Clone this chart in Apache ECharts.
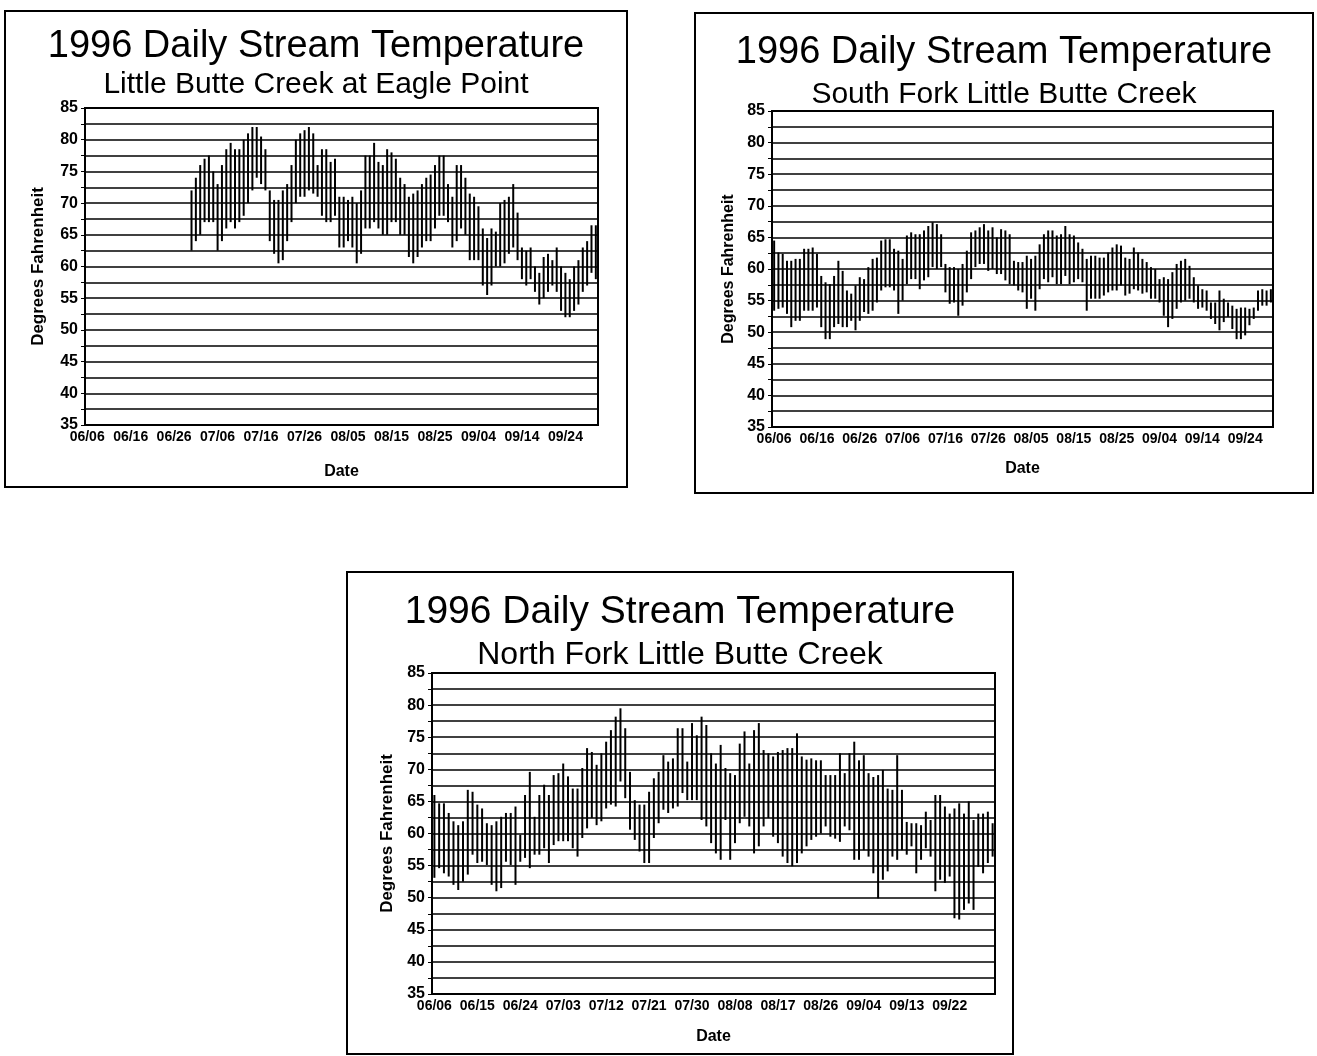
<!DOCTYPE html>
<html>
<head>
<meta charset="utf-8">
<script src="https://cdn.jsdelivr.net/npm/echarts@6/dist/echarts.min.js"></script>
<style>
  body { margin: 0; background: #fff; width: 1317px; height: 1056px; position: relative; overflow: hidden; }
  .box { position: absolute; box-sizing: border-box; border: 2px solid #000; background: #fff; }
</style>
</head>
<body>
<div id="eagle" class="box" style="left:4px;top:10px;width:624px;height:478px;"></div>
<div id="south" class="box" style="left:694px;top:12px;width:620px;height:482px;"></div>
<div id="north" class="box" style="left:346px;top:571px;width:668px;height:484px;"></div>
<script>
// daily min / max, index 0 = 06/06/1996
var eagleLow = [null,null,null,null,null,null,null,null,null,null,null,null,null,null,null,null,null,null,null,null,null,null,null,null,
  62.5,64,65,67,67,67,62.5,64,66,67,66,67,68,70,72,74,73,72,64,62,60.5,61,64,67,70,71,71,72,71.5,71,68,67,67,68,
  63,63,64,63,60.5,62,66,66,67,66,65,65,67,67,65,65,61.5,60.5,61.5,63,64,64,66,68,68,67,63,64,66,65,61,61,61,
  57,55.5,57,60,60,60.5,62,63,61,58,57,58,56,54,55,56,57,56,53,52,52,53,54,56,57,59,58];
var eagleHigh = [null,null,null,null,null,null,null,null,null,null,null,null,null,null,null,null,null,null,null,null,null,null,null,null,
  72,74,76,77,77.5,75,73,76,78.5,79.5,78.5,78.5,80,81,82,82,80.5,78.5,72,70.5,70.5,72,73,76,80,81,81.5,82,81,76,78.5,78.5,76.5,77,
  71,71,70.5,71,70,72,77.5,77.5,79.5,76.5,76,78.5,78,77,74,73,71,71.5,72,73,74,74.5,76,77.5,77.5,73,71,76,76,74,71.5,71,69.5,
  66,64.5,66,65.5,70,70.5,71,73,68.5,63,62.5,63,60,59,61.5,62,61,63,60,59,58,60,61,63,64,66.5,66.5];

var southLow = [53.4,53.7,53.9,52.9,50.8,51.8,51.8,53.4,53.4,53.4,53.9,50.8,48.9,48.9,50.8,51.3,50.8,50.8,51.8,50.3,
  51.8,53.2,52.9,53.4,54.7,56.6,57.1,57.1,56.6,52.9,55,57.6,58.4,58.4,56.8,58.2,58.7,60.3,60,60.3,
  56.3,54.5,54.7,52.6,54.2,56.3,58.4,60.3,60.8,60.8,59.7,60,59.2,59.2,58.2,57.6,57.4,56.6,56.3,53.7,
  55.3,53.4,56.8,58.4,57.9,58.7,57.6,57.6,58.9,57.6,57.9,58.4,57.9,53.4,55.3,55.3,55.3,55.8,56.3,56.6,
  56.6,57.4,55.8,56.1,56.8,56.6,56.1,56.3,55.3,55.3,54.7,52.6,50.8,52.1,53.7,54.7,55,55.3,54.7,53.7,
  53.9,53.4,52.1,51.3,50.3,51.6,52.4,50.5,48.9,48.9,49.5,51.1,52.1,53.4,54.2,54.2,54.7];
var southHigh = [64.5,62.6,62.4,61.3,61.3,61.6,61.6,63.2,63.2,63.4,62.4,58.9,57.9,57.6,58.9,61.3,59.7,56.6,56.1,57.4,
  58.7,58.4,60.3,61.6,61.8,64.5,64.7,64.7,63.2,62.9,61.6,65.3,65.8,65.5,65.5,66.1,66.8,67.4,67.1,65.5,
  60.8,60.3,60.3,60,60.8,62.9,65.8,66.1,66.6,67.1,66.1,66.6,65,66.3,66.1,65.5,61.3,61.1,61.1,62.1,
  61.6,62.1,63.9,65.5,66.1,66.1,65.3,65.5,66.8,65.5,65.3,64.2,63.2,61.6,62.1,62.1,61.8,61.8,62.6,63.4,
  63.9,63.7,61.8,61.6,63.4,62.6,61.6,61.1,60.3,60,58.4,58.7,58.4,59.5,60.8,61.3,61.6,60.5,58.7,57.4,
  56.8,56.6,54.7,54.7,56.6,55.3,54.7,54.2,53.7,53.9,53.9,53.7,53.9,56.6,56.8,56.6,56.8];

var northLow = [53.1,54.6,53.8,53.3,52,51.2,52.5,53.6,56.7,55.4,55.6,55.1,52,51,51.5,55.6,55.1,52,55.6,56.2,
  54.6,56.7,56.7,57.7,55.4,58.2,58.8,58.8,58.8,57.7,56.4,59.3,60.8,62.4,61.3,61.9,63.9,64.5,64.2,68.1,
  65.5,60.6,59,57.2,55.4,55.4,59.3,61.6,63.7,63.2,63.9,64.2,66.3,65.2,65.2,65.2,62.1,61.1,58.5,56.9,
  55.9,62.1,55.9,58.5,61.6,62.6,61.1,56.9,58,61.1,62.4,59.5,58.5,56.4,55.4,54.9,55.4,56.9,58,59,
  59.5,60,61.1,59.5,59.2,58.7,61.1,60.5,55.9,55.9,57.4,56.4,53.8,49.9,52.8,54.1,56.4,55.9,57.4,56.7,
  58,53.8,55.9,57.7,56.4,51,52.8,52.3,53.3,46.8,46.6,48.1,49.1,48.1,54.8,53.8,55.4,56.4];
var northHigh = [66,64.7,64.7,63.2,61.9,61.3,61.9,66.8,66.5,64.5,63.9,61.6,61.3,61.9,62.6,63.2,63.2,64.2,59.8,66,
  69.6,62.6,66,67.6,66,69.1,69.4,70.9,68.9,67,67,70.2,73.3,72.7,70.7,72.5,74.3,76.1,78.2,79.5,
  76.4,69.6,65.2,64.5,64.5,66.5,68.6,69.6,72.2,71.2,71.7,76.4,76.4,71.2,77.2,75.3,78.2,76.9,72.5,70.9,
  73.8,70.2,69.4,69.1,74,75.9,70.9,76.1,77.2,73,72.5,72,72.7,73,73.3,73.3,75.6,72,71.5,71.7,
  71.4,71.4,69.1,69.1,69.1,72.5,69.4,72.5,74.3,71.4,72.2,69.4,68.8,69.1,69.9,67,66.8,72.2,66.8,61.8,
  61.6,61.6,61.3,63.4,62.1,66,66,64.2,63.1,63.9,64.7,63.1,65,62.1,63.1,63.1,63.4,61.6];

var yMin = 35, yMax = 85, yStep = 2.5;

function makeDays(n) {
  var out = [];
  var d = new Date(1996, 5, 6);
  for (var i = 0; i < n; i++) {
    var mm = ('0' + (d.getMonth() + 1)).slice(-2);
    var dd = ('0' + d.getDate()).slice(-2);
    out.push(mm + '/' + dd);
    d.setDate(d.getDate() + 1);
  }
  return out;
}

var font = 'Liberation Sans, Arial, sans-serif';

function drawChart(id, cfg) {
  var chart = echarts.init(document.getElementById(id), null, { renderer: 'canvas' });
  var days = makeDays(cfg.low.length);
  var data = [];
  for (var i = 0; i < cfg.low.length; i++) {
    if (cfg.low[i] == null) continue;
    data.push([i, cfg.low[i], cfg.high[i]]);
  }
  var last = cfg.lastLabel;
  var option = {
    animation: false,
    title: [
      { text: '1996 Daily Stream Temperature', left: 'center', top: cfg.titleTop,
        textStyle: { fontFamily: font, fontSize: cfg.titleSize, fontWeight: 'normal', color: '#000' } },
      { text: cfg.sub, left: 'center', top: cfg.subTop,
        textStyle: { fontFamily: font, fontSize: cfg.subSize, fontWeight: 'normal', color: '#000' } }
    ],
    grid: cfg.grid,
    xAxis: {
      type: 'category',
      data: days,
      boundaryGap: true,
      name: 'Date',
      nameLocation: 'middle',
      nameGap: cfg.dateGap,
      nameTextStyle: { fontFamily: font, fontSize: 16, fontWeight: 'bold', color: '#000' },
      axisLine: { lineStyle: { color: '#000', width: 1.5 } },
      axisTick: { inside: true, length: 4, interval: 0, lineStyle: { color: '#000', width: 1 } },
      axisLabel: {
        interval: function (idx) { return idx % cfg.labelEvery === 0 && idx <= last; },
        margin: 5, fontFamily: font, fontSize: 14, fontWeight: 'bold', color: '#000'
      },
      splitLine: { show: false }
    },
    yAxis: {
      type: 'value',
      min: yMin, max: yMax, interval: yStep,
      name: 'Degrees Fahrenheit',
      nameLocation: 'middle',
      nameRotate: 90,
      nameGap: cfg.nameGap,
      nameTextStyle: { fontFamily: font, fontSize: cfg.nameSize, fontWeight: 'bold', color: '#000' },
      axisLine: { show: true, lineStyle: { color: '#000', width: 1.5 } },
      axisTick: { show: true, length: 4, lineStyle: { color: '#000' } },
      axisLabel: {
        margin: 7, fontFamily: font, fontSize: 16, fontWeight: 'bold', color: '#000',
        formatter: function (v) { return v % 5 === 0 ? String(v) : ''; }
      },
      splitLine: { show: true, lineStyle: { color: '#000', width: 1.5 } }
    },
    series: [{
      type: 'custom',
      encode: { x: 0, y: [1, 2] },
      data: data,
      renderItem: function (params, api) {
        var a = api.coord([api.value(0), api.value(1)]);
        var b = api.coord([api.value(0), api.value(2)]);
        return {
          type: 'line',
          shape: { x1: a[0], y1: a[1], x2: b[0], y2: b[1] },
          style: { stroke: '#000', lineWidth: 2 }
        };
      }
    }],
    graphic: [{
      type: 'rect', silent: true, z: 100,
      shape: { x: cfg.grid.left, y: cfg.grid.top, width: cfg.grid.width, height: cfg.grid.height },
      style: { fill: 'none', stroke: '#000', lineWidth: 2 }
    }]
  };
  chart.setOption(option);
}

drawChart('eagle', {
  low: eagleLow, high: eagleHigh, sub: 'Little Butte Creek at Eagle Point',
  titleTop: 11, titleSize: 38, subTop: 53, subSize: 30,
  grid: { left: 79, top: 96, width: 513, height: 317 },
  labelEvery: 10, lastLabel: 110, nameGap: 38, nameSize: 17, dateGap: 39
});
drawChart('south', {
  low: southLow, high: southHigh, sub: 'South Fork Little Butte Creek',
  titleTop: 15, titleSize: 38, subTop: 61, subSize: 30,
  grid: { left: 76, top: 97, width: 501, height: 316 },
  labelEvery: 10, lastLabel: 110, nameGap: 35, nameSize: 16, dateGap: 34
});
drawChart('north', {
  low: northLow, high: northHigh, sub: 'North Fork Little Butte Creek',
  titleTop: 15, titleSize: 39, subTop: 61, subSize: 32,
  grid: { left: 84, top: 100, width: 563, height: 321 },
  labelEvery: 9, lastLabel: 108, nameGap: 30, nameSize: 17, dateGap: 35
});
</script>
</body>
</html>
